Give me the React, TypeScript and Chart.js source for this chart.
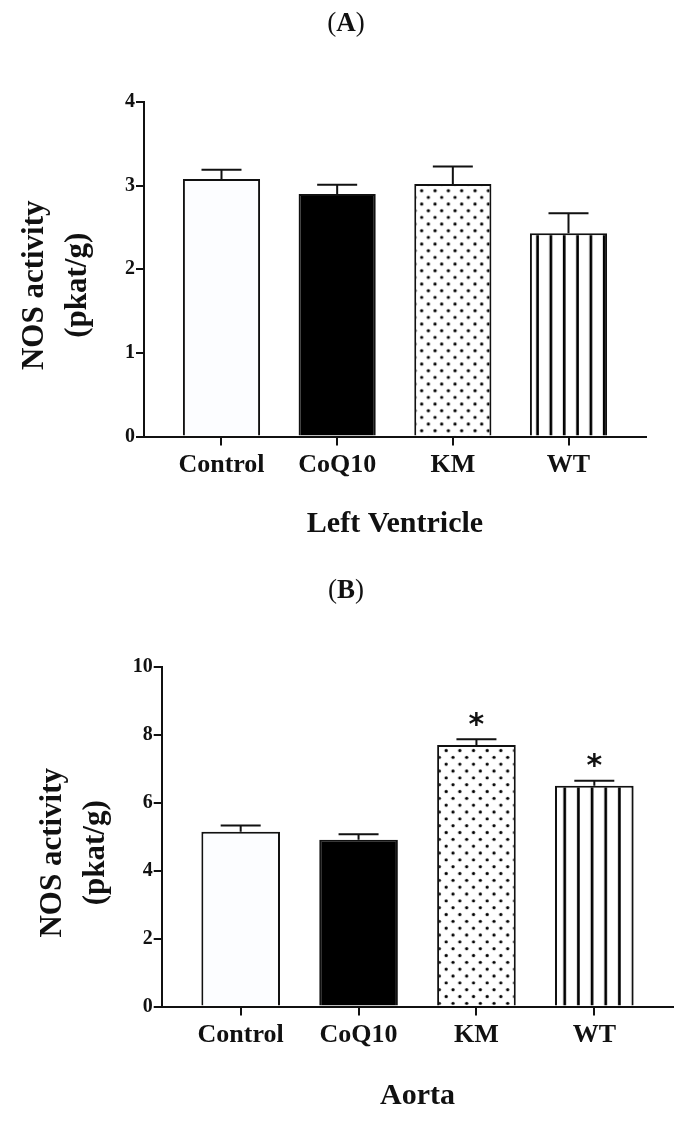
import React, { useEffect, useRef } from 'react';
import { Chart, registerables } from 'chart.js';

Chart.register(...registerables);

// ---------- data ----------
const categories = ['Control', 'CoQ10', 'KM', 'WT'];
const fillKinds = ['plain', 'solid', 'dots', 'stripes'];

const lvMeans = [3.08, 2.9, 3.02, 2.43];
const lvSem = [0.11, 0.11, 0.21, 0.24];
const lvStars = ['', '', '', ''];
const lvYMax = 4;
const lvYStep = 1;

const aortaMeans = [5.15, 4.91, 7.7, 6.5];
const aortaSem = [0.18, 0.16, 0.17, 0.15];
const aortaStars = ['', '', '*', '*'];
const aortaYMax = 10;
const aortaYStep = 2;

const yTitleLines = ['NOS activity', '(pkat/g)'];

// ---------- styles / layout ----------
const SERIF = '"Liberation Serif", "Times New Roman", serif';
const INK = '#111';
const BAR_FRACTION = 0.667;
const PAGE_W = 691;

type Panel = {
  letter: string;
  xTitle: string;
  means: number[];
  sem: number[];
  stars: string[];
  yMax: number;
  yStep: number;
  offsetTop: number;
  height: number;
  area: { left: number; right: number; top: number; bottom: number };
  letterBaseline: number;
  xTitleBaseline: number;
  stripeFirst: number;
  stripePeriod: number;
  dotFirst: number;
  dotTop: number;
  dotPeriod: number;
};

const panels: Panel[] = [
  {
    letter: 'A',
    xTitle: 'Left Ventricle',
    means: lvMeans,
    sem: lvSem,
    stars: lvStars,
    yMax: lvYMax,
    yStep: lvYStep,
    offsetTop: 0,
    height: 560,
    area: { left: 144, right: 646, top: 102, bottom: 436.5 },
    letterBaseline: 31,
    xTitleBaseline: 531.5,
    stripeFirst: 7.6,
    stripePeriod: 13.4,
    dotFirst: 7.4,
    dotTop: 6.7,
    dotPeriod: 13.33,
  },
  {
    letter: 'B',
    xTitle: 'Aorta',
    means: aortaMeans,
    sem: aortaSem,
    stars: aortaStars,
    yMax: aortaYMax,
    yStep: aortaYStep,
    offsetTop: 560,
    height: 561,
    area: { left: 161.7, right: 673.3, top: 107, bottom: 446.5 },
    letterBaseline: 38.3,
    xTitleBaseline: 544,
    stripeFirst: 9.7,
    stripePeriod: 13.8,
    dotFirst: 9,
    dotTop: 5.4,
    dotPeriod: 13.67,
  },
];

function barFill(ctx: any, p: Panel): any {
  const i = ctx.dataIndex;
  if (i === undefined) return '#fff';
  const kind = fillKinds[i];
  if (kind === 'solid') return '#000';
  if (kind === 'plain') return '#fcfdff';
  const chart = ctx.chart;
  const xs = chart.scales && chart.scales.x;
  const ys = chart.scales && chart.scales.y;
  if (!xs || !ys || !xs.width) return '#fff';
  const unit = xs.getPixelForValue(1) - xs.getPixelForValue(0);
  const left = xs.getPixelForValue(i) - (unit * BAR_FRACTION) / 2;
  const top = ys.getPixelForValue(p.means[i]);
  const tile = document.createElement('canvas');
  const t = tile.getContext('2d')!;
  if (kind === 'dots') {
    const W = Math.round(p.dotPeriod * 3);
    tile.width = W;
    tile.height = W;
    const P = W / 3;
    const rowH = W / 6;
    t.fillStyle = '#fff';
    t.fillRect(0, 0, W, W);
    t.fillStyle = '#000';
    for (let r = 0; r < 6; r++) {
      for (let c = -1; c <= 3; c++) {
        const x = (c + 0.25 + (r % 2) * 0.5) * P;
        const y = (r + 0.5) * rowH;
        t.beginPath();
        t.arc(x, y, 1.6, 0, Math.PI * 2);
        t.fill();
      }
    }
    const pat = chart.ctx.createPattern(tile, 'repeat');
    pat.setTransform(new DOMMatrix([1, 0, 0, 1, left + p.dotFirst - 0.25 * P, top + p.dotTop - 0.5 * rowH]));
    return pat;
  }
  // stripes
  const W = Math.round(p.stripePeriod * 3);
  tile.width = W;
  tile.height = 4;
  const P = W / 3;
  t.fillStyle = '#fff';
  t.fillRect(0, 0, W, 4);
  t.fillStyle = '#000';
  const sw = 2.7;
  for (let c = 0; c < 3; c++) t.fillRect(c * P + P / 2 - sw / 2, 0, sw, 4);
  const pat = chart.ctx.createPattern(tile, 'repeat');
  pat.setTransform(new DOMMatrix([1, 0, 0, 1, left + p.stripeFirst - P / 2, 0]));
  return pat;
}

function decorPlugin(p: Panel) {
  return {
    id: 'decor' + p.letter,
    afterDraw(chart: any) {
      const c = chart.ctx;
      const xs = chart.scales.x;
      const ys = chart.scales.y;
      const area = chart.chartArea;
      c.save();
      // error bars (upper whisker only)
      c.strokeStyle = INK;
      c.lineWidth = 2;
      categories.forEach((_, i) => {
        const x = xs.getPixelForValue(i);
        const y0 = ys.getPixelForValue(p.means[i]);
        const y1 = ys.getPixelForValue(p.means[i] + p.sem[i]);
        c.beginPath();
        c.moveTo(x, y0);
        c.lineTo(x, y1);
        c.moveTo(x - 20, y1);
        c.lineTo(x + 20, y1);
        c.stroke();
        if (p.stars[i]) {
          c.fillStyle = INK;
          c.font = `bold 30px "DejaVu Sans", sans-serif`;
          const m = c.measureText(p.stars[i]);
          const h = m.actualBoundingBoxAscent - m.actualBoundingBoxDescent;
          c.textAlign = 'center';
          c.textBaseline = 'alphabetic';
          c.fillText(p.stars[i], x, y1 - 20 + h / 2);
        }
      });
      c.fillStyle = INK;
      // panel letter
      const regular = `27px ${SERIF}`;
      const bold = `bold 27px ${SERIF}`;
      c.textBaseline = 'alphabetic';
      c.textAlign = 'left';
      c.font = regular;
      const wl = c.measureText('(').width;
      const wr = c.measureText(')').width;
      c.font = bold;
      const wm = c.measureText(p.letter).width;
      let lx = 346 - (wl + wm + wr) / 2;
      c.font = regular;
      c.fillText('(', lx, p.letterBaseline);
      lx += wl;
      c.font = bold;
      c.fillText(p.letter, lx, p.letterBaseline);
      lx += wm;
      c.font = regular;
      c.fillText(')', lx, p.letterBaseline);
      // x title
      c.font = `bold 30px ${SERIF}`;
      c.textAlign = 'center';
      c.fillText(p.xTitle, (area.left + area.right) / 2, p.xTitleBaseline);
      // y title (two rotated lines)
      const cy = (area.top + area.bottom) / 2 + 16;
      const baselines = [area.left - 101, area.left - 58];
      yTitleLines.forEach((line, k) => {
        c.save();
        c.translate(baselines[k], cy);
        c.rotate(-Math.PI / 2);
        c.textAlign = 'center';
        c.textBaseline = 'alphabetic';
        c.font = `bold 31px ${SERIF}`;
        c.fillText(line, 0, 0);
        c.restore();
      });
      c.restore();
    },
  };
}

function PanelChart({ p }: { p: Panel }) {
  const ref = useRef<HTMLCanvasElement>(null);
  useEffect(() => {
    const canvas = ref.current;
    if (!canvas) return;
    const chart = new Chart(canvas, {
      type: 'bar',
      data: {
        datasets: [
          {
            data: categories.map((_, i) => ({ x: i, y: p.means[i] })) as any,
            backgroundColor: (ctx: any) => barFill(ctx, p),
            borderColor: INK,
            borderWidth: 2,
            borderSkipped: 'start',
            barPercentage: BAR_FRACTION,
            categoryPercentage: 1,
          } as any,
        ],
      },
      options: {
        responsive: false,
        animation: false,
        devicePixelRatio: 1,
        events: [],
        layout: { padding: { top: p.area.top, left: 0, right: PAGE_W - p.area.right, bottom: 0 } },
        plugins: { legend: { display: false }, tooltip: { enabled: false }, title: { display: false } },
        scales: {
          x: {
            type: 'linear',
            min: -0.67,
            max: categories.length - 1 + 0.67,
            offset: false,
            afterBuildTicks: (s: any) => {
              s.ticks = categories.map((_, i) => ({ value: i }));
            },
            afterFit: (s: any) => {
              s.height = p.height - p.area.bottom;
            },
            ticks: {
              callback: (v: any) => categories[v] ?? '',
              autoSkip: false,
              maxRotation: 0,
              minRotation: 0,
              padding: 4,
              color: INK,
              font: { family: SERIF, size: 26, weight: 'bold' },
            },
            grid: { display: true, drawOnChartArea: false, drawTicks: true, tickLength: 9, lineWidth: 2, color: INK, offset: false },
            border: { display: true, color: INK, width: 2 },
          } as any,
          y: {
            min: 0,
            max: p.yMax,
            ticks: { stepSize: p.yStep, padding: 1, color: INK, font: { family: SERIF, size: 20, weight: 'bold' } },
            afterFit: (s: any) => {
              s.width = p.area.left;
            },
            grid: { display: true, drawOnChartArea: false, drawTicks: true, tickLength: 8, lineWidth: 2, color: INK },
            border: { display: true, color: INK, width: 2 },
          } as any,
        },
      },
      plugins: [decorPlugin(p)],
    });
    return () => chart.destroy();
  }, [p]);
  return (
    <canvas
      ref={ref}
      width={PAGE_W}
      height={p.height}
      style={{ position: 'absolute', left: 0, top: p.offsetTop, width: PAGE_W, height: p.height, display: 'block' }}
    />
  );
}

export default function App() {
  return (
    <div style={{ position: 'absolute', left: 0, top: 0, width: PAGE_W, height: 1121, background: '#fff' }}>
      {panels.map((p) => (
        <PanelChart key={p.letter} p={p} />
      ))}
    </div>
  );
}
